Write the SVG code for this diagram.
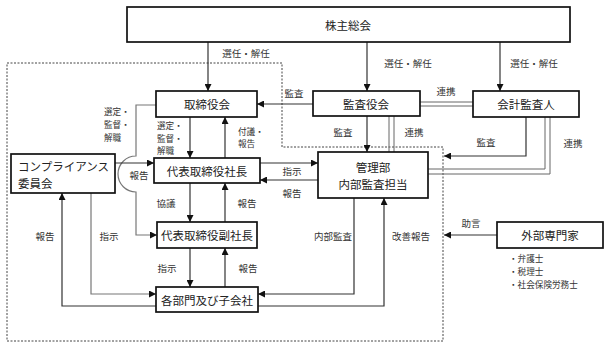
<svg xmlns="http://www.w3.org/2000/svg" width="610" height="349" viewBox="0 0 610 349">
<style>
.box{fill:#fff;stroke:#111;stroke-width:1.7}
.t{font-family:"Noto Sans CJK JP","Noto Sans CJK SC",sans-serif;font-size:11.5px;fill:#222;text-anchor:middle;dominant-baseline:central}
.tl{font-family:"Noto Sans CJK JP","Noto Sans CJK SC",sans-serif;font-size:11.5px;fill:#222;dominant-baseline:central}
.lb{font-family:"Noto Sans CJK JP","Noto Sans CJK SC",sans-serif;font-size:9.5px;fill:#333;text-anchor:middle;dominant-baseline:central}
.ll{font-family:"Noto Sans CJK JP","Noto Sans CJK SC",sans-serif;font-size:8.6px;fill:#333;dominant-baseline:central}
.nt{font-family:"Noto Sans CJK JP","Noto Sans CJK SC",sans-serif;font-size:8.6px;fill:#333;dominant-baseline:central}
.c{fill:none;stroke:#333;stroke-width:1.2}
.g{fill:none;stroke:#777;stroke-width:1.2}
.d{fill:none;stroke:#666;stroke-width:1}
.a{marker-end:url(#ah)}
.dash{fill:none;stroke:#444;stroke-width:1;stroke-dasharray:2,1.5}
</style>
<defs>
<marker id="ah" viewBox="0 0 8 8" refX="8" refY="4" markerWidth="7" markerHeight="7" markerUnits="userSpaceOnUse" orient="auto"><path d="M0,0 L8,4 L0,8 z" fill="#111"/></marker>
</defs>
<rect width="610" height="349" fill="#fff"/>
<path class="dash" d="M7,63 H282 V147 H443 V341 H7 Z"/>
<g id="connectors">
<path class="c a" d="M208,42 V91"/>
<path class="c a" d="M367,42 V91"/>
<path class="c a" d="M500,42 V91"/>
<path class="c a" d="M313,104 H257"/>
<path class="d" d="M420,102 H473 M420,106 H473"/>
<path class="c a" d="M367,116 V152"/>
<path class="d" d="M389,116 V152 M394,116 V152"/>
<path class="c a" d="M526,117 V156 H444"/>
<path class="d" d="M545,117 V169 H428 M550,117 V174 H428"/>
<path class="c a" d="M190,117 V158"/>
<path class="c a" d="M225,158 V117"/>
<path class="g a" d="M156,105 H136 V156 A18,18 0 0 0 136,192 V235 H157"/>
<path class="c a" d="M115,163 H154"/>
<path class="c a" d="M260,163 H318"/>
<path class="c a" d="M318,180 H260"/>
<path class="c a" d="M190,183 V222"/>
<path class="c a" d="M225,222 V183"/>
<path class="c a" d="M190,248 V287"/>
<path class="c a" d="M225,287 V248"/>
<path class="g a" d="M91,193 V294 H156"/>
<path class="c a" d="M156,306 H62 V193"/>
<path class="c a" d="M354,198 V294 H258"/>
<path class="c a" d="M258,306 H384 V198"/>
<path class="c a" d="M497,235 H444"/>
<text class="lb" x="246" y="53">選任・解任</text>
<text class="lb" x="408" y="63">選任・解任</text>
<text class="lb" x="534" y="63">選任・解任</text>
<text class="lb" x="294" y="93">監査</text>
<text class="lb" x="446" y="91">連携</text>
<text class="lb" x="343" y="132">監査</text>
<text class="lb" x="414" y="132">連携</text>
<text class="lb" x="486" y="142">監査</text>
<text class="lb" x="573" y="143">連携</text>
<text class="ll" x="157" y="125">選定・</text>
<text class="ll" x="157" y="137.5">監督・</text>
<text class="ll" x="157" y="150">解職</text>
<text class="ll" x="238" y="130.5">付議・</text>
<text class="ll" x="238" y="143">報告</text>
<text class="ll" x="104" y="110.5">選定・</text>
<text class="ll" x="104" y="123.5">監督・</text>
<text class="ll" x="104" y="136.5">解職</text>
<text class="lb" x="139" y="175">報告</text>
<text class="lb" x="292" y="171">指示</text>
<text class="lb" x="292" y="193">報告</text>
<text class="lb" x="166" y="203">協議</text>
<text class="lb" x="247" y="203">報告</text>
<text class="lb" x="167" y="268">指示</text>
<text class="lb" x="248" y="268">報告</text>
<text class="lb" x="109" y="236">指示</text>
<text class="lb" x="45" y="236">報告</text>
<text class="lb" x="333" y="236">内部監査</text>
<text class="lb" x="411" y="236">改善報告</text>
<text class="lb" x="471" y="223">助言</text>
</g>
<g id="n-kabunushi"><rect class="box" x="127" y="7" width="443" height="35"/><text class="t" x="348" y="25">株主総会</text></g>
<g id="n-torishimariyakukai"><rect class="box" x="156" y="91" width="101" height="26"/><text class="t" x="207" y="104">取締役会</text></g>
<g id="n-kansayakukai"><rect class="box" x="313" y="91" width="107" height="25"/><text class="t" x="366" y="103.5">監査役会</text></g>
<g id="n-kaikei"><rect class="box" x="473" y="91" width="106" height="26"/><text class="t" x="526" y="104">会計監査人</text></g>
<g id="n-shacho"><rect class="box" x="154" y="158" width="106" height="25"/><text class="t" x="207" y="170.5">代表取締役社長</text></g>
<g id="n-fukushacho"><rect class="box" x="157" y="222" width="100" height="26"/><text class="t" x="207" y="235">代表取締役副社長</text></g>
<g id="n-kakubumon"><rect class="box" x="156" y="287" width="102" height="25"/><text class="t" x="207" y="299.5">各部門及び子会社</text></g>
<g id="n-compliance"><rect class="box" x="11" y="154" width="104" height="39"/><text class="tl" x="18" y="165.5">コンプライアンス</text><text class="tl" x="18" y="183">委員会</text></g>
<g id="n-kanribu"><rect class="box" x="318" y="152" width="110" height="46"/><text class="t" x="373" y="166.5">管理部</text><text class="t" x="373" y="183.5">内部監査担当</text></g>
<g id="n-gaibu"><rect class="box" x="497" y="222" width="106" height="26"/><text class="t" x="550" y="235">外部専門家</text></g>
<g id="notes">
<text class="nt" x="509" y="258">・弁護士</text>
<text class="nt" x="509" y="271">・税理士</text>
<text class="nt" x="509" y="284">・社会保険労務士</text>
</g>
</svg>
